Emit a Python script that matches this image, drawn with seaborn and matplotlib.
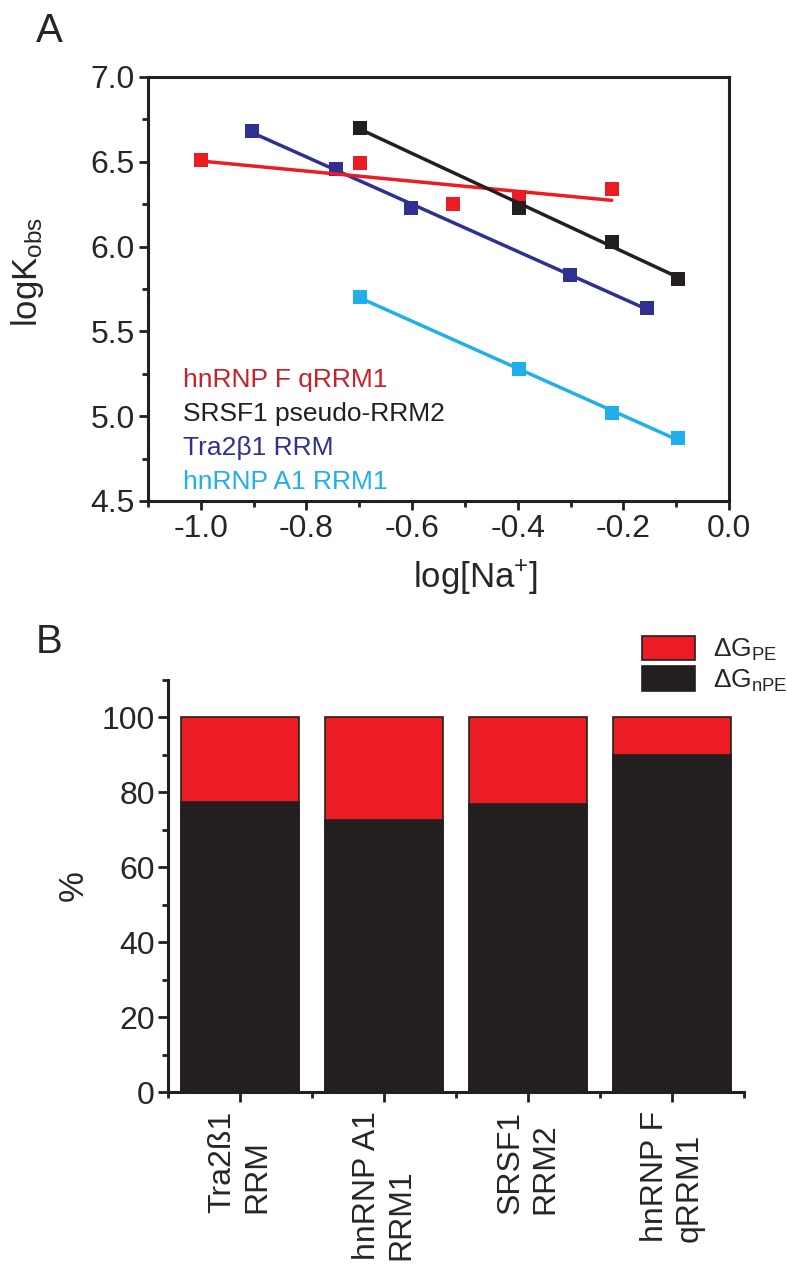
import numpy as np
import matplotlib
matplotlib.use("Agg")
import matplotlib.pyplot as plt
from matplotlib.patches import Patch
from matplotlib.ticker import MultipleLocator, FixedLocator
import seaborn as sns

# panel A: log K_obs vs log[Na+]
red_x = [-1.0, -0.699, -0.523, -0.398, -0.222]
red_y = [6.51, 6.49, 6.25, 6.29, 6.34]
blue_x = [-0.903, -0.745, -0.602, -0.301, -0.155]
blue_y = [6.68, 6.46, 6.23, 5.83, 5.64]
black_x = [-0.699, -0.398, -0.222, -0.097]
black_y = [6.70, 6.23, 6.03, 5.81]
cyan_x = [-0.699, -0.398, -0.222, -0.097]
cyan_y = [5.70, 5.28, 5.02, 4.87]
names_a = ["hnRNP F qRRM1", "SRSF1 pseudo-RRM2", "Tra2\u03b21 RRM", "hnRNP A1 RRM1"]

# panel B: stacked percentages
proteins = ["Tra2\u00df1\nRRM", "hnRNP A1\nRRM1", "SRSF1\nRRM2", "hnRNP F\nqRRM1"]
dg_npe = [77.5, 72.5, 77.0, 90.0]
dg_pe = [22.5, 27.5, 23.0, 10.0]

RED = "#ec1c24"
BLACK = "#231f20"
BLUE = "#2e3192"
CYAN = "#1fb0ec"

sns.set_style("ticks")
plt.rcParams["font.family"] = ["Liberation Sans", "DejaVu Sans"]
plt.rcParams["mathtext.default"] = "regular"
plt.rcParams["axes.unicode_minus"] = False

fig = plt.figure(figsize=(7.87, 12.69), dpi=100)
W, H = 787, 1269
ax1 = fig.add_axes([148 / W, 1 - 501 / H, 581 / W, 424 / H])
ax2 = fig.add_axes([168 / W, 1 - 1092 / H, 576 / W, 412 / H])

series = [(blue_x, blue_y, BLUE), (red_x, red_y, RED),
          (black_x, black_y, BLACK), (cyan_x, cyan_y, CYAN)]
for xs, ys, c in series:
    sns.regplot(x=xs, y=ys, ax=ax1, ci=None, marker="s", color=c, truncate=True,
                scatter_kws={"s": 95, "alpha": 1, "linewidths": 0},
                line_kws={"lw": 2.5})

ax1.set_xlim(-1.1, 0.0)
ax1.set_ylim(4.5, 7.0)
ax1.xaxis.set_major_locator(MultipleLocator(0.2))
ax1.xaxis.set_minor_locator(MultipleLocator(0.1))
ax1.yaxis.set_major_locator(MultipleLocator(0.5))
ax1.yaxis.set_minor_locator(MultipleLocator(0.25))
ax1.xaxis.set_major_formatter(matplotlib.ticker.FormatStrFormatter("%.1f"))
ax1.yaxis.set_major_formatter(matplotlib.ticker.FormatStrFormatter("%.1f"))
for s in ax1.spines.values():
    s.set_linewidth(2.2)
    s.set_color(BLACK)
ax1.tick_params(which="major", direction="out", length=6.5, width=2, labelsize=23,
                top=False, right=False, pad=3, color=BLACK)
ax1.tick_params(which="minor", direction="out", length=4, width=2,
                top=False, right=False, color=BLACK)
ax1.set_xlabel("log[Na$^{+}$]", fontsize=25)
ax1.set_ylabel("logK$_{obs}$", fontsize=25)
ax1.xaxis.set_label_coords(0.563, -0.135)
ax1.yaxis.set_label_coords(-0.175, 0.54)

text_cols = ["#c9202a", BLACK, BLUE, CYAN]
for i, (nm, c) in enumerate(zip(names_a, text_cols)):
    ax1.text(0.06, 0.269 - i * 0.0805, nm, transform=ax1.transAxes, fontsize=19,
             color=c, va="baseline", ha="left")

# panel B
totals = np.array(dg_npe) + np.array(dg_pe)
sns.barplot(x=proteins, y=totals, ax=ax2, color=RED, saturation=1, width=0.815,
            edgecolor=BLACK, linewidth=1.2)
sns.barplot(x=proteins, y=dg_npe, ax=ax2, color=BLACK, saturation=1, width=0.815,
            edgecolor=BLACK, linewidth=1.2)
ax2.set_xlim(-0.5, 3.5)
ax2.set_ylim(0, 110)
ax2.yaxis.set_major_locator(MultipleLocator(20))
ax2.yaxis.set_minor_locator(MultipleLocator(10))
ax2.xaxis.set_minor_locator(FixedLocator([-0.5, 0.5, 1.5, 2.5, 3.5]))
sns.despine(ax=ax2)
for s in ["left", "bottom"]:
    ax2.spines[s].set_linewidth(2.2)
    ax2.spines[s].set_color(BLACK)
ax2.tick_params(which="major", direction="out", length=7.5, width=2, labelsize=23,
                pad=2, color=BLACK)
ax2.tick_params(which="minor", direction="out", length=4, width=2, color=BLACK)
ax2.tick_params(axis="x", which="major", pad=6)
for lab in ax2.get_xticklabels():
    lab.set_rotation(90)
    lab.set_va("top")
    lab.set_ha("center")
    lab.set_multialignment("left")
ax2.set_xlabel("")
ax2.set_ylabel("%", fontsize=25)
ax2.yaxis.set_label_coords(-0.135, 0.5)

handles = [Patch(facecolor=RED, edgecolor=BLACK, linewidth=1.2),
           Patch(facecolor=BLACK, edgecolor=BLACK, linewidth=1.2)]
fig.legend(handles, ["\u0394G$_{PE}$", "\u0394G$_{nPE}$"], loc="upper left",
           bbox_to_anchor=(642 / W, 1 - 636 / H), bbox_transform=fig.transFigure,
           frameon=False, fontsize=19, borderpad=0, borderaxespad=0,
           handlelength=2.0, handleheight=1.05, handletextpad=0.7, labelspacing=0.1)

fig.text(36 / W, 1 - 42 / H, "A", fontsize=29, va="baseline")
fig.text(36 / W, 1 - 653 / H, "B", fontsize=29, va="baseline")

fig.savefig("out.png", dpi=100)
